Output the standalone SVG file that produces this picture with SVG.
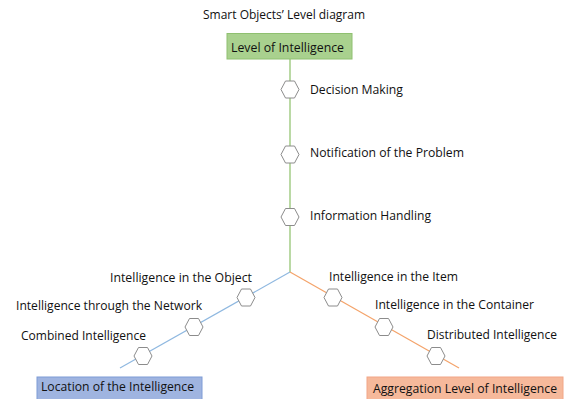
<svg xmlns="http://www.w3.org/2000/svg" xmlns:xlink="http://www.w3.org/1999/xlink" width="564" height="399" viewBox="0 0 564 399">
<style>
text{font-family:"Open Sans","Liberation Sans",sans-serif;font-size:13.5px;fill:#111}
.hex{fill:#fff;stroke:#8c8c8c;stroke-width:1}
</style>
<defs>
<polygon id="hx" class="hex" points="-9,0 -4.5,-8.5 4.5,-8.5 9,0 4.5,8.5 -4.5,8.5"/>
</defs>
<rect width="564" height="399" fill="#fff"/>
<text id="title" x="203" y="19" textLength="162" lengthAdjust="spacingAndGlyphs">Smart Objects’ Level diagram</text>
<g id="connectors" fill="none" stroke-width="1.2">
<line x1="290" y1="59" x2="290" y2="272" stroke="#8cc068"/>
<line x1="290" y1="272" x2="120" y2="368" stroke="#8fb8e0"/>
<line x1="290" y1="272" x2="459" y2="368" stroke="#f4a36a"/>
</g>
<g id="level">
<rect x="227" y="33.5" width="125" height="25.5" fill="#a9d18e" stroke="#8fc070"/>
<text x="231" y="52" textLength="113" lengthAdjust="spacingAndGlyphs">Level of Intelligence</text>
</g>
<g id="location">
<rect x="37" y="377" width="165" height="25" fill="#9fb4e0" stroke="#7e9cd6"/>
<text x="41" y="391" textLength="153" lengthAdjust="spacingAndGlyphs">Location of the Intelligence</text>
</g>
<g id="aggregation">
<rect x="367" y="377" width="196" height="25" fill="#f6b99b" stroke="#f2a687"/>
<text x="373" y="393" textLength="184" lengthAdjust="spacingAndGlyphs">Aggregation Level of Intelligence</text>
</g>
<g id="decision"><use xlink:href="#hx" x="290" y="89.5"/><text x="310" y="94" textLength="93" lengthAdjust="spacingAndGlyphs">Decision Making</text></g>
<g id="notification"><use xlink:href="#hx" x="290" y="154.5"/><text x="310" y="157" textLength="154" lengthAdjust="spacingAndGlyphs">Notification of the Problem</text></g>
<g id="information"><use xlink:href="#hx" x="290" y="217"/><text x="310" y="220" textLength="121" lengthAdjust="spacingAndGlyphs">Information Handling</text></g>
<g id="object"><use xlink:href="#hx" x="246" y="297.5"/><text x="110" y="282" textLength="142" lengthAdjust="spacingAndGlyphs">Intelligence in the Object</text></g>
<g id="network"><use xlink:href="#hx" x="194" y="327"/><text x="16" y="310" textLength="186" lengthAdjust="spacingAndGlyphs">Intelligence through the Network</text></g>
<g id="combined"><use xlink:href="#hx" x="143" y="356"/><text x="21" y="340" textLength="125" lengthAdjust="spacingAndGlyphs">Combined Intelligence</text></g>
<g id="item"><use xlink:href="#hx" x="333" y="297.5"/><text x="329" y="281" textLength="129" lengthAdjust="spacingAndGlyphs">Intelligence in the Item</text></g>
<g id="container"><use xlink:href="#hx" x="384" y="327"/><text x="375" y="309" textLength="159" lengthAdjust="spacingAndGlyphs">Intelligence in the Container</text></g>
<g id="distributed"><use xlink:href="#hx" x="436" y="356"/><text x="427" y="339" textLength="130" lengthAdjust="spacingAndGlyphs">Distributed Intelligence</text></g>
</svg>
